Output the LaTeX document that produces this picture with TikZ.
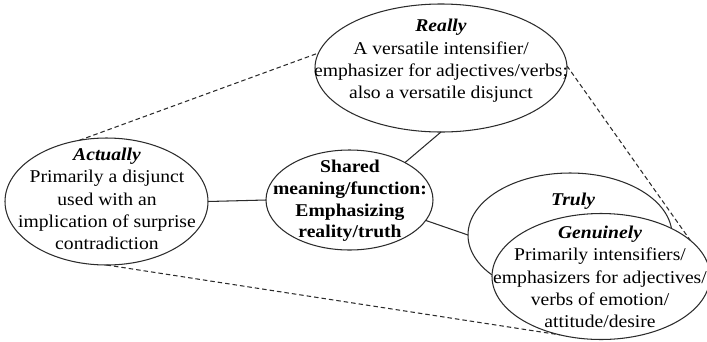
\documentclass[tikz,border=0pt]{standalone}
\usepackage{fontspec}
\setmainfont{Liberation Serif}[FakeStretch=1.09]
\usetikzlibrary{shapes.geometric}

\definecolor{ink}{HTML}{2B2B2B}

\tikzset{
  bubble/.style={ellipse, draw=ink, line width=1.05pt, fill=white,
    inner sep=0pt, outer sep=0pt},
  txt/.style={inner sep=0pt, align=center, text=black,
    font=\fontsize{18}{22.3}\selectfont},
  solidlink/.style={draw=ink, line width=1.05pt},
  dashlink/.style={draw=ink, line width=1.05pt, dash pattern=on 4.5pt off 3pt},
}
\newcommand{\adverb}[1]{{\bfseries\itshape #1}}

\begin{document}
\begin{tikzpicture}[x=1pt, y=1pt]
  \useasboundingbox (0,0) rectangle (707,-341);

  % the five ellipses (Truly sits behind Genuinely)
  \node[bubble, minimum width=252pt, minimum height=128pt] (really)    at (441,-68) {};
  \node[bubble, minimum width=203pt, minimum height=127pt] (actually)  at (106.5,-201.5) {};
  \node[bubble, minimum width=167pt, minimum height=100pt] (shared)    at (349.5,-200) {};
  \node[bubble, minimum width=204pt, minimum height=124pt] (truly)     at (570,-235) {};
  \node[bubble, minimum width=218pt, minimum height=126pt] (genuinely) at (601,-276.5) {};

  % texts
  \node[txt] (reallytxt) at (441,-61)
    {\adverb{Really}\\A versatile intensifier/\\emphasizer for adjectives/verbs;\\also a versatile disjunct};
  \node[txt] (actuallytxt) at (107,-199)
    {\adverb{Actually}\\Primarily a disjunct\\used with an\\implication of surprise\\contradiction};
  \node[txt, font=\fontsize{18}{21.7}\selectfont\bfseries] (sharedtxt) at (350,-201)
    {Shared\\meaning/function:\\Emphasizing\\reality/truth};
  \node[txt] (trulytxt) at (573,-201) {\adverb{Truly}};
  \node[txt] (genuinelytxt) at (600,-277)
    {\adverb{Genuinely}\\Primarily intensifiers/\\emphasizers for adjectives/\\verbs of emotion/\\attitude/desire};

  % solid links to the shared meaning
  \draw[solidlink] (actually.east) -- (shared.west);
  \draw[solidlink] (shared.34.7) -- (really.south);
  \draw[solidlink] (shared.345.5) -- (truly.west);

  % dashed outline joining the adverbs
  \draw[dashlink] (actually.114.3) -- (really.173);
  \draw[dashlink] (really.1.5) -- (genuinely.22);
  \draw[dashlink] (actually.south) -- (genuinely.235);
\end{tikzpicture}
\end{document}
